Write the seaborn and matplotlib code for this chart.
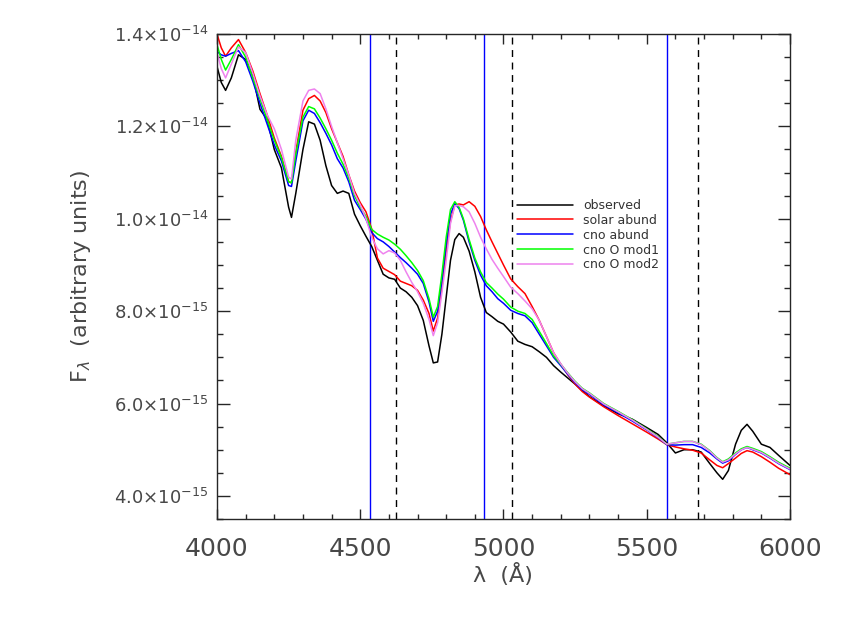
import numpy as np
import pandas as pd
import matplotlib
matplotlib.use('Agg')
import matplotlib.pyplot as plt
import seaborn as sns

# wavelength grid (Angstrom) and fluxes in units of 1e-15
wave = [4000, 4015, 4030, 4050, 4075, 4100, 4125, 4150, 4175, 4200, 4225, 4250, 4260, 4275,
        4300, 4320, 4340, 4360, 4380, 4400, 4420, 4440, 4460, 4480, 4500, 4520, 4540, 4560,
        4580, 4600, 4620, 4640, 4660, 4680, 4700, 4720, 4740, 4755, 4770, 4785, 4800, 4815,
        4830, 4845, 4860, 4880, 4900, 4920, 4940, 4960, 4980, 5000, 5025, 5050, 5075, 5100,
        5125, 5150, 5175, 5200, 5225, 5250, 5275, 5300, 5350, 5400, 5450, 5500, 5540, 5570,
        5600, 5630, 5660, 5690, 5720, 5745, 5765, 5785, 5810, 5830, 5850, 5870, 5900, 5930,
        5960, 6000]

observed = [13.3, 12.95, 12.78, 13.05, 13.55, 13.45, 13.1, 12.37, 12.15, 11.5, 11.1, 10.25, 10.03, 10.55,
            11.5, 12.1, 12.05, 11.7, 11.15, 10.72, 10.55, 10.6, 10.55, 10.1, 9.85, 9.62, 9.4, 9.1,
            8.8, 8.72, 8.69, 8.5, 8.42, 8.3, 8.12, 7.8, 7.25, 6.88, 6.9, 7.5, 8.3, 9.1,
            9.55, 9.68, 9.6, 9.3, 8.85, 8.3, 7.97, 7.88, 7.78, 7.72, 7.55, 7.35, 7.28, 7.23,
            7.12, 7.0, 6.82, 6.68, 6.55, 6.42, 6.28, 6.15, 5.95, 5.78, 5.66, 5.48, 5.33, 5.15,
            4.93, 5.0, 5.0, 4.95, 4.7, 4.5, 4.36, 4.55, 5.12, 5.42, 5.55, 5.4, 5.12, 5.05,
            4.88, 4.66]

solar = [14.0, 13.7, 13.52, 13.7, 13.88, 13.6, 13.2, 12.71, 12.25, 11.75, 11.35, 10.8, 10.78, 11.45,
         12.35, 12.6, 12.67, 12.55, 12.3, 11.95, 11.65, 11.35, 10.95, 10.6, 10.35, 10.15, 9.78, 9.15,
         8.93, 8.86, 8.79, 8.65, 8.6, 8.55, 8.45, 8.24, 7.95, 7.57, 7.85, 8.5, 9.3, 9.95,
         10.3, 10.32, 10.3, 10.37, 10.27, 10.05, 9.76, 9.5, 9.25, 9.0, 8.7, 8.53, 8.38, 8.1,
         7.8, 7.45, 7.1, 6.85, 6.62, 6.42, 6.26, 6.14, 5.93, 5.74, 5.56, 5.38, 5.23, 5.11,
         5.06, 5.02, 4.99, 4.93, 4.78, 4.66, 4.61, 4.7, 4.82, 4.92, 4.98, 4.95, 4.85, 4.73,
         4.6, 4.46]

cno = [13.62, 13.55, 13.52, 13.58, 13.64, 13.4, 12.98, 12.5, 12.05, 11.6, 11.25, 10.72, 10.7, 11.25,
       12.12, 12.35, 12.28, 12.08, 11.85, 11.6, 11.3, 11.1, 10.8, 10.4, 10.2, 9.99, 9.7, 9.57,
       9.5, 9.4, 9.28, 9.16, 9.05, 8.93, 8.8, 8.6, 8.2, 7.78, 8.0, 8.65, 9.45, 10.1,
       10.33, 10.22, 9.97, 9.5, 9.1, 8.78, 8.55, 8.42, 8.27, 8.17, 8.02, 7.95, 7.9, 7.75,
       7.5, 7.25, 7.0, 6.82, 6.63, 6.45, 6.3, 6.2, 5.97, 5.8, 5.62, 5.43, 5.26, 5.11,
       5.1, 5.11, 5.11, 5.05, 4.93, 4.8, 4.71, 4.76, 4.9, 5.0, 5.05, 5.0, 4.93, 4.82,
       4.7, 4.57]

cno_mod1 = [13.77, 13.45, 13.22, 13.45, 13.77, 13.5, 13.05, 12.6, 12.15, 11.7, 11.32, 10.8, 10.78, 11.4,
            12.2, 12.43, 12.38, 12.18, 11.95, 11.7, 11.42, 11.18, 10.88, 10.5, 10.25, 10.05, 9.77, 9.67,
            9.6, 9.54, 9.45, 9.34, 9.2, 9.05, 8.88, 8.66, 8.27, 7.87, 8.1, 8.8, 9.6, 10.2,
            10.37, 10.25, 10.0, 9.55, 9.15, 8.85, 8.62, 8.5, 8.37, 8.26, 8.09, 8.0, 7.95, 7.82,
            7.56, 7.3, 7.03, 6.85, 6.66, 6.48, 6.33, 6.23, 6.0, 5.83, 5.65, 5.45, 5.28, 5.12,
            5.15, 5.18, 5.18, 5.12, 4.98, 4.83, 4.74, 4.8, 4.93, 5.02, 5.07, 5.03, 4.96, 4.85,
            4.73, 4.6]

cno_mod2 = [13.6, 13.25, 13.05, 13.35, 13.72, 13.6, 13.15, 12.66, 12.25, 11.95, 11.5, 10.9, 10.86, 11.7,
            12.55, 12.78, 12.81, 12.71, 12.38, 12.0, 11.65, 11.3, 10.95, 10.55, 10.3, 10.0, 9.6, 9.35,
            9.24, 9.31, 9.26, 9.1, 8.85, 8.62, 8.42, 8.17, 7.82, 7.47, 7.75, 8.4, 9.1, 9.9,
            10.28, 10.29, 10.26, 10.15, 9.9, 9.6, 9.35, 9.12, 8.93, 8.75, 8.52, 8.38, 8.22, 8.05,
            7.8, 7.45, 7.1, 6.86, 6.65, 6.47, 6.32, 6.22, 5.99, 5.82, 5.64, 5.44, 5.27, 5.12,
            5.15, 5.18, 5.18, 5.11, 4.97, 4.82, 4.73, 4.78, 4.91, 5.0, 5.05, 5.01, 4.94, 4.83,
            4.71, 4.58]

series_names = ['observed', 'solar abund', 'cno abund', 'cno O mod1', 'cno O mod2']
series_colors = ['black', '#ff0000', '#0000ff', '#00ff00', '#ee82ee']

blue_lines = [4535, 4932, 5570]
dashed_lines = [4625, 5030, 5680]

yticks = [4e-15, 6e-15, 8e-15, 1.0e-14, 1.2e-14, 1.4e-14]
ytick_labels = [r'4.0$\times$10$^{-15}$', r'6.0$\times$10$^{-15}$', r'8.0$\times$10$^{-15}$',
                r'1.0$\times$10$^{-14}$', r'1.2$\times$10$^{-14}$', r'1.4$\times$10$^{-14}$']
xticks = [4000, 4500, 5000, 5500, 6000]

frames = []
for name, vals in zip(series_names, [observed, solar, cno, cno_mod1, cno_mod2]):
    frames.append(pd.DataFrame({'wave': wave, 'flux': np.array(vals) * 1e-15, 'model': name}))
df = pd.concat(frames, ignore_index=True)

sns.set_style('ticks')
plt.rcParams['font.family'] = ['DejaVu Sans']
plt.rcParams['mathtext.fontset'] = 'dejavusans'

fig = plt.figure(figsize=(8.45, 6.23), dpi=100)
ax = fig.add_axes([0.2568, 0.1669, 0.6781, 0.7785])

sns.lineplot(data=df, x='wave', y='flux', hue='model', hue_order=series_names,
             palette=series_colors, linewidth=1.1, ax=ax, legend=False, sort=False)

for xv in blue_lines:
    ax.axvline(xv, color='#0000ff', lw=1.0, zorder=1)
for xv in dashed_lines:
    ax.axvline(xv, color='black', lw=1.0, ls=(0, (5, 4)), zorder=1)

ax.set_xlim(4000, 6000)
ax.set_ylim(3.5e-15, 1.4e-14)
ax.set_xticks(xticks)
ax.set_xticklabels([str(x) for x in xticks])
ax.set_xticks(np.arange(4000, 6001, 100), minor=True)
ax.set_yticks(yticks)
ax.set_yticklabels(ytick_labels)
ax.set_yticks(np.arange(3.5e-15, 1.41e-14, 0.5e-15), minor=True)

txt = '#484848'
ax.tick_params(axis='x', which='major', direction='in', length=7, width=1, top=True,
               labelsize=18, labelcolor=txt, pad=13)
ax.tick_params(axis='x', which='minor', direction='in', length=3.5, width=1, top=True)
ax.tick_params(axis='y', which='major', direction='in', length=9, width=1, right=True,
               labelsize=13, labelcolor=txt, pad=6)
ax.tick_params(axis='y', which='minor', direction='in', length=4.5, width=1, right=True)
for s in ax.spines.values():
    s.set_linewidth(1.0)

ax.set_xlabel('λ  (Å)', fontsize=16, color=txt)
ax.xaxis.set_label_coords(0.499, -0.09)
ax.set_ylabel(r'F$_\lambda$  (arbitrary units)', fontsize=16, color=txt)
ax.yaxis.set_label_coords(-0.216, 0.5)

handles = [plt.Line2D([], [], color=c, lw=1.1) for c in series_colors]
leg = ax.legend(handles, series_names, loc='upper left', bbox_to_anchor=(0.5236, 0.66),
                frameon=False, fontsize=9, handlelength=4.5, handletextpad=0.8,
                labelspacing=0.15, borderpad=0, borderaxespad=0)
for t in leg.get_texts():
    t.set_color('#333333')

plt.savefig('out.png', dpi=100)
